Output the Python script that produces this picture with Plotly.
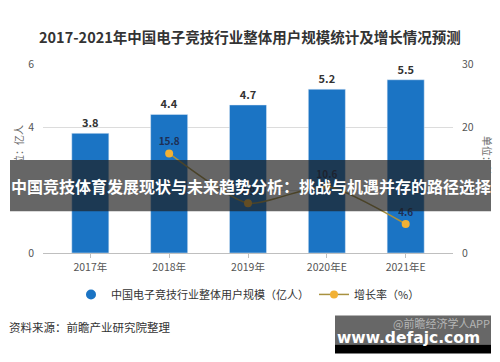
import plotly.graph_objects as go

years = ["2017年", "2018年", "2019年", "2020年E", "2021年E"]
users = [3.8, 4.4, 4.7, 5.2, 5.5]
growth_years = ["2018年", "2019年", "2020年E", "2021年E"]
growth = [15.8, 7.9, 10.6, 4.6]

FONT = "Noto Sans CJK SC, Noto Sans, sans-serif"

# pixel -> paper helpers (plot area: x 43..453, y 64.3..252.7)
def px(x):
    return (x - 43) / 410.0

def py(y):
    return (252.7 - y) / 188.4

fig = go.Figure()
fig.add_trace(go.Bar(
    x=years, y=users, name="中国电子竞技行业整体用户规模（亿人）",
    marker=dict(color="#1b74c4"), width=0.47, showlegend=False,
    text=[f"<b>{v:.1f}</b>" for v in users], textposition="outside",
    textfont=dict(size=11, color="#333333", family=FONT),
    cliponaxis=False, yaxis="y",
))
# legend proxy with circular marker like the reference
fig.add_trace(go.Scatter(
    x=[None], y=[None], mode="markers", name="中国电子竞技行业整体用户规模（亿人）",
    marker=dict(color="#1b74c4", size=10, symbol="circle"),
))
fig.add_trace(go.Scatter(
    x=growth_years, y=growth, name="增长率（%）", yaxis="y2",
    mode="lines+markers+text",
    line=dict(color="#a8913f", width=1.5, shape="spline", smoothing=0.6),
    marker=dict(color="#f2b134", size=8),
    text=[f"<b>{v:.1f}</b>" for v in growth], textposition="top center",
    textfont=dict(size=10, color="#1e2f55", family=FONT),
    cliponaxis=False,
))

fig.update_layout(
    width=500, height=362,
    margin=dict(l=43, r=47, t=64, b=109),
    paper_bgcolor="white", plot_bgcolor="white",
    font=dict(family=FONT, color="#555555", size=10),
    showlegend=True,
    legend=dict(orientation="h", x=0.5, xanchor="center", y=py(294), yanchor="middle",
                font=dict(size=11, color="#333333")),
    xaxis=dict(type="category", range=[-0.6, 4.6], showgrid=False,
               showline=True, linecolor="#bfbfbf", linewidth=1,
               ticks="outside", ticklen=4, tickcolor="#bfbfbf",
               tickfont=dict(size=10.5, color="#555555")),
    yaxis=dict(range=[0, 6], dtick=2, showgrid=True, gridcolor="#dcdcdc",
               zeroline=False, tickfont=dict(size=10.5, color="#555555"),
               ticklabelstandoff=8),
    yaxis2=dict(range=[0, 30], dtick=10, overlaying="y", side="right",
                showgrid=False, zeroline=False,
                tickfont=dict(size=10.5, color="#555555"), ticklabelstandoff=8),
)

def ann(text, x, y, size, color, xanchor="center", angle=0, family=FONT):
    return dict(text=text, x=px(x), y=py(y), xref="paper", yref="paper",
                xanchor=xanchor, yanchor="middle", showarrow=False, textangle=angle,
                font=dict(size=size, color=color, family=family))

annotations = [
    ann("<b>2017-2021年中国电子竞技行业整体用户规模统计及增长情况预测</b>", 250, 37, 14.5, "#333333"),
    ann("单位：亿人", 19, 150, 10, "#666666", angle=-90),
    ann("单位：%", 487, 155, 10, "#666666", angle=90),
    ann("资料来源：前瞻产业研究院整理", 7, 326, 11.5, "#333333", xanchor="left"),
    ann("<b>中国竞技体育发展现状与未来趋势分析：挑战与机遇并存的路径选择</b>", 250.5, 185.5, 16, "white"),
    ann("@前瞻经济学人APP", 492, 322, 11, "#b5b5b5", xanchor="right"),
    ann("<b>www.defajc.com</b>", 408, 337, 15.5, "white", family="DejaVu Sans, sans-serif"),
]
fig.update_layout(annotations=annotations)

shapes = [
    dict(type="rect", xref="paper", yref="paper", x0=px(10), x1=px(491), y0=py(211), y1=py(160),
         fillcolor="rgba(30,30,30,0.68)", line=dict(width=0), layer="above"),
    dict(type="rect", xref="paper", yref="paper", x0=px(335), x1=px(491), y0=py(344), y1=py(315),
         fillcolor="rgba(95,95,95,0.95)", line=dict(width=0), layer="above"),
    dict(type="rect", xref="paper", yref="paper", x0=px(335), x1=px(491), y0=py(353), y1=py(344),
         fillcolor="black", line=dict(width=0), layer="above"),
]
fig.update_layout(shapes=shapes)

fig.write_html("out.html", config={"displayModeBar": False},
               post_script="document.body.style.margin='0';")
